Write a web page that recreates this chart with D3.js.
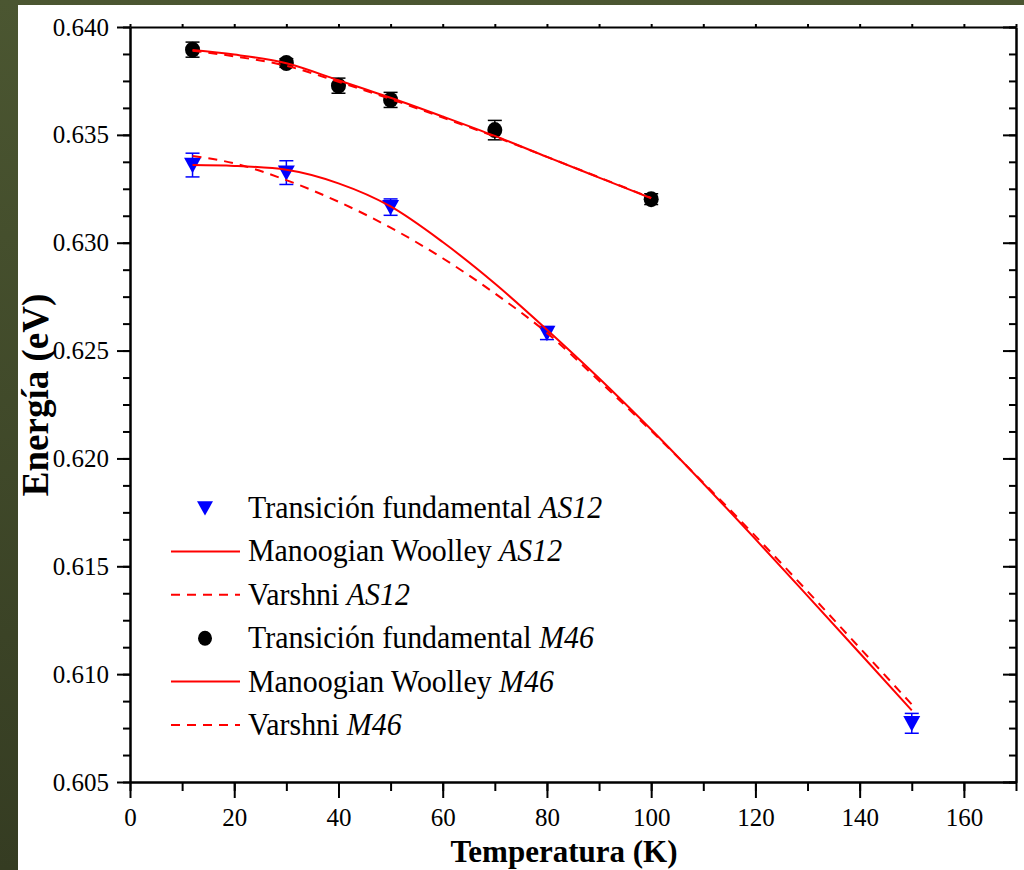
<!DOCTYPE html>
<html>
<head>
<meta charset="utf-8">
<script src="https://cdn.jsdelivr.net/npm/d3@7"></script>
<style>
  html, body { margin: 0; padding: 0; background: #3f4a2a; }
  svg { display: block; }
  text { font-family: "Liberation Serif", "Times New Roman", serif; }
</style>
</head>
<body>
<svg id="chart" width="1024" height="870"></svg>
<script>
// ---------- data ----------
const tempAS12   = [12, 30, 50, 80, 150];
const energyAS12 = [0.63360, 0.63325, 0.63165, 0.62581, 0.60772];
const errAS12    = [0.00055, 0.00055, 0.00038, 0.00030, 0.00046];

const tempM46    = [12, 30, 40, 50, 70, 100];
const energyM46  = [0.63895, 0.63833, 0.63728, 0.63662, 0.63522, 0.63202];
const errM46     = [0.00035, 0.00020, 0.00035, 0.00035, 0.00045, 0.00025];

const fitTempAS12  = [12, 20, 30, 40, 50, 60, 70, 80, 90, 100, 110, 120, 130, 140, 150];
const mwAS12       = [0.63360, 0.63356, 0.63338, 0.63275, 0.63168, 0.63003, 0.62811, 0.62597, 0.62372, 0.62134, 0.61884, 0.61626, 0.61363, 0.61098, 0.60832];
const varshniAS12  = [0.63402, 0.63368, 0.63290, 0.63190, 0.63070, 0.62928, 0.62765, 0.62582, 0.62360, 0.62128, 0.61888, 0.61640, 0.61384, 0.61122, 0.60860];

const fitTempM46   = [12, 20, 30, 40, 50, 60, 70, 80, 90, 100];
const mwM46        = [0.63893, 0.63872, 0.63832, 0.63753, 0.63672, 0.63585, 0.63495, 0.63398, 0.63302, 0.63206];
const varshniM46   = [0.63890, 0.63864, 0.63820, 0.63746, 0.63666, 0.63580, 0.63492, 0.63398, 0.63303, 0.63208];

const xTickValues = [0, 20, 40, 60, 80, 100, 120, 140, 160];
const yTickValues = [0.605, 0.610, 0.615, 0.620, 0.625, 0.630, 0.635, 0.640];

const legendText   = ["Transición fundamental ", "Manoogian Woolley ", "Varshni ", "Transición fundamental ", "Manoogian Woolley ", "Varshni "];
const legendSample = ["AS12", "AS12", "AS12", "M46", "M46", "M46"];
const legendKind   = ["triangle", "solid", "dashed", "circle", "solid", "dashed"];

// ---------- layout ----------
const svg = d3.select("#chart");
const W = 1024, H = 870;
const plotL = 130, plotR = 1016, plotT = 27, plotB = 782;
const FONT = "'Liberation Serif', 'Times New Roman', serif";

// background
const defs = svg.append("defs");
const grad = defs.append("linearGradient").attr("id", "bg").attr("x1", 0).attr("y1", 0).attr("x2", 0).attr("y2", 1);
grad.append("stop").attr("offset", "0%").attr("stop-color", "#4b5631");
grad.append("stop").attr("offset", "100%").attr("stop-color", "#353c22");
svg.append("rect").attr("width", W).attr("height", H).attr("fill", "url(#bg)");
svg.append("rect").attr("x", 18).attr("y", 5).attr("width", W - 18).attr("height", H - 5).attr("fill", "#ffffff");

const x = d3.scaleLinear().domain([0, 170]).range([plotL, plotR]);
const y = d3.scaleLinear().domain([0.605, 0.640]).range([plotB, plotT]);

const xMinor = d3.range(0, 171, 10);
const yMinor = d3.range(0, 29).map(i => 0.605 + i * 0.00125);

// ---------- axes ----------
const axisStyle = g => {
  g.attr("font-family", FONT);
  g.selectAll("path.domain").attr("stroke", "#000").attr("stroke-width", 2);
  g.selectAll(".tick line").attr("stroke", "#000").attr("stroke-width", 2);
  g.selectAll("text").style("font-family", FONT).style("font-size", "25px").attr("fill", "#000");
};

svg.append("g").attr("transform", `translate(0,${plotB})`)
  .call(d3.axisBottom(x).tickValues(xMinor).tickSize(9).tickFormat("").tickSizeOuter(0))
  .call(axisStyle);
svg.append("g").attr("transform", `translate(0,${plotB})`)
  .call(d3.axisBottom(x).tickValues(xTickValues).tickSize(16).tickPadding(10).tickFormat(d3.format("d")).tickSizeOuter(0))
  .call(axisStyle);

svg.append("g").attr("transform", `translate(0,${plotT})`)
  .call(d3.axisTop(x).tickValues(xMinor).tickSize(3).tickFormat("").tickSizeOuter(0))
  .call(axisStyle);

svg.append("g").attr("transform", `translate(${plotL},0)`)
  .call(d3.axisLeft(y).tickValues(yMinor).tickSize(7).tickFormat("").tickSizeOuter(0))
  .call(axisStyle);
svg.append("g").attr("transform", `translate(${plotL},0)`)
  .call(d3.axisLeft(y).tickValues(yTickValues).tickSize(13).tickPadding(8).tickFormat(d3.format(".3f")).tickSizeOuter(0))
  .call(axisStyle);

svg.append("g").attr("transform", `translate(${plotR},0)`)
  .call(d3.axisRight(y).tickValues(yMinor).tickSize(-7).tickFormat("").tickSizeOuter(0))
  .call(axisStyle);
svg.append("g").attr("transform", `translate(${plotR},0)`)
  .call(d3.axisRight(y).tickValues(yTickValues).tickSize(-13).tickFormat("").tickSizeOuter(0))
  .call(axisStyle);

// axis titles
svg.append("text")
  .attr("x", (plotL + plotR) / 2 - 9).attr("y", 862)
  .attr("text-anchor", "middle")
  .style("font-family", FONT).attr("font-weight", "bold").attr("font-size", 31)
  .text("Temperatura (K)");

svg.append("text")
  .attr("transform", `translate(48,395) rotate(-90)`)
  .attr("text-anchor", "middle")
  .style("font-family", FONT).attr("font-weight", "bold").attr("font-size", 37)
  .text("Energía (eV)");

// ---------- markers + error bars ----------
const capW = 7;
function errorBars(temps, vals, errs, color) {
  const g = svg.append("g").attr("stroke", color).attr("stroke-width", 1.5);
  temps.forEach((t, i) => {
    const cx = x(t), y1 = y(vals[i] + errs[i]), y2 = y(vals[i] - errs[i]);
    g.append("line").attr("x1", cx).attr("x2", cx).attr("y1", y1).attr("y2", y2);
    g.append("line").attr("x1", cx - capW).attr("x2", cx + capW).attr("y1", y1).attr("y2", y1);
    g.append("line").attr("x1", cx - capW).attr("x2", cx + capW).attr("y1", y2).attr("y2", y2);
  });
}
errorBars(tempM46, energyM46, errM46, "#000");
errorBars(tempAS12, energyAS12, errAS12, "#0000ff");

const triPath = (s) => `M${-s},${-s * 0.85}L${s},${-s * 0.85}L0,${s * 0.95}Z`;

svg.append("g").selectAll("ellipse").data(tempM46).join("ellipse")
  .attr("cx", d => x(d)).attr("cy", (d, i) => y(energyM46[i]))
  .attr("rx", 7.5).attr("ry", 8).attr("fill", "#000");

svg.append("g").selectAll("path").data(tempAS12).join("path")
  .attr("transform", (d, i) => `translate(${x(d)},${y(energyAS12[i])})`)
  .attr("d", triPath(8.5)).attr("fill", "#0000ff");

// ---------- fit curves ----------
const line = d3.line().x(d => x(d[0])).y(d => y(d[1])).curve(d3.curveMonotoneX);
function curve(ts, vs, dashed) {
  svg.append("path")
    .datum(ts.map((t, i) => [t, vs[i]]))
    .attr("d", line)
    .attr("fill", "none").attr("stroke", "#ff0000").attr("stroke-width", 2)
    .attr("stroke-dasharray", dashed ? "9,7" : null);
}
curve(fitTempM46, varshniM46, true);
curve(fitTempM46, mwM46, false);
curve(fitTempAS12, varshniAS12, true);
curve(fitTempAS12, mwAS12, false);

// ---------- legend ----------
const legX0 = 171, legX1 = 240, legSym = 205, legText = 248, legY0 = 508, legDY = 43.4;
const leg = svg.append("g");
legendKind.forEach((k, i) => {
  const cy = legY0 + i * legDY;
  if (k === "triangle") {
    leg.append("path").attr("transform", `translate(${legSym},${cy})`).attr("d", triPath(8)).attr("fill", "#0000ff");
  } else if (k === "circle") {
    leg.append("ellipse").attr("cx", legSym).attr("cy", cy).attr("rx", 7).attr("ry", 7.5).attr("fill", "#000");
  } else {
    leg.append("line").attr("x1", legX0).attr("x2", legX1).attr("y1", cy).attr("y2", cy)
      .attr("stroke", "#ff0000").attr("stroke-width", 2)
      .attr("stroke-dasharray", k === "dashed" ? "9,7" : null);
  }
  const t = leg.append("text")
    .attr("transform", `translate(${legText},${cy + 10}) scale(0.92,1)`)
    .style("font-family", FONT).attr("font-size", 32.5).attr("fill", "#000");
  t.append("tspan").text(legendText[i]);
  t.append("tspan").attr("font-style", "italic").text(legendSample[i]);
});
</script>
</body>
</html>
